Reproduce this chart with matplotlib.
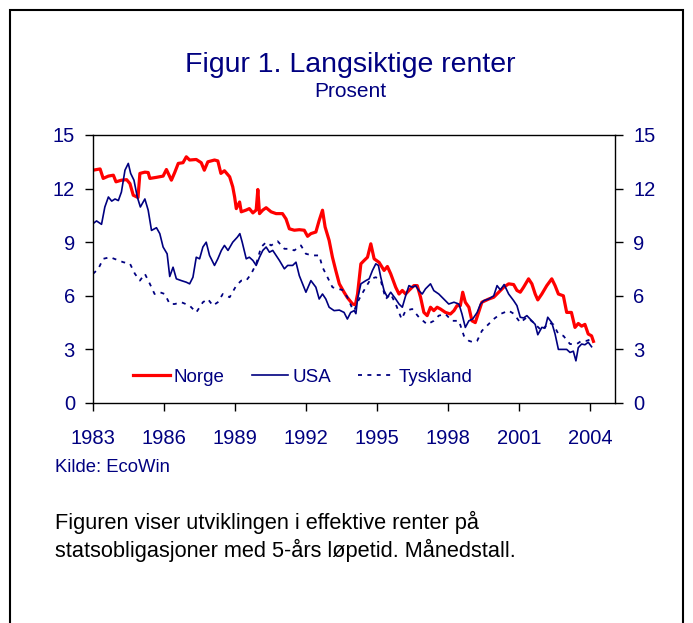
import matplotlib
matplotlib.use("Agg")
import matplotlib.pyplot as plt
from matplotlib.patches import Rectangle

plt.rcParams['font.family'] = ['Liberation Sans', 'DejaVu Sans']

NAVY = '#000080'
RED = '#FF0000'

norge_year = [1983.0, 1983.3, 1983.43, 1983.65, 1983.86, 1983.97, 1984.2, 1984.42, 1984.56, 1984.7,
              1984.9, 1984.98, 1985.19, 1985.33, 1985.4, 1985.68, 1985.96, 1986.1, 1986.31, 1986.45,
              1986.6, 1986.8, 1986.94, 1987.08, 1987.36, 1987.57, 1987.7, 1987.85, 1988.13, 1988.27,
              1988.4, 1988.55, 1988.77, 1988.9, 1988.98, 1989.05, 1989.19, 1989.26, 1989.47, 1989.6,
              1989.75, 1989.89, 1989.96, 1990.03, 1990.17, 1990.31, 1990.52, 1990.73, 1991.0, 1991.15,
              1991.29, 1991.5, 1991.71, 1991.92, 1992.06, 1992.2, 1992.41, 1992.55, 1992.69, 1992.8,
              1992.97, 1993.11, 1993.25, 1993.4, 1993.6, 1993.74, 1993.96, 1994.08, 1994.17, 1994.31,
              1994.45, 1994.59, 1994.73, 1994.87, 1995.08, 1995.29, 1995.43, 1995.57, 1995.78, 1995.92,
              1996.06, 1996.2, 1996.34, 1996.55, 1996.69, 1996.83, 1996.97, 1997.11, 1997.25, 1997.39,
              1997.53, 1997.67, 1997.88, 1998.09, 1998.24, 1998.37, 1998.51, 1998.61, 1998.72, 1998.87,
              1999.0, 1999.14, 1999.28, 1999.42, 1999.71, 1999.92, 2000.13, 2000.34, 2000.55, 2000.76,
              2000.9, 2001.04, 2001.18, 2001.39, 2001.53, 2001.67, 2001.78, 2001.95, 2002.16, 2002.37,
              2002.51, 2002.65, 2002.86, 2003.0, 2003.2, 2003.35, 2003.49, 2003.63, 2003.77, 2003.91,
              2004.05, 2004.13]
norge_val = [13.03, 13.1, 12.57, 12.7, 12.75, 12.38, 12.47, 12.5, 12.28, 11.63,
             11.5, 12.85, 12.92, 12.9, 12.57, 12.63, 12.7, 13.07, 12.47, 12.9,
             13.41, 13.45, 13.78, 13.6, 13.63, 13.45, 13.03, 13.5, 13.6, 13.55,
             12.85, 13.0, 12.66, 12.1, 11.53, 10.88, 11.25, 10.7, 10.8, 10.88,
             10.64, 10.8, 11.95, 10.6, 10.8, 10.93, 10.7, 10.6, 10.6, 10.3,
             9.75, 9.67, 9.7, 9.67, 9.33, 9.48, 9.57, 10.22, 10.79, 9.85,
             9.1, 8.16, 7.42, 6.67, 6.2, 5.9, 5.54, 5.5, 6.1, 7.79,
             7.98, 8.16, 8.91, 8.07, 7.87, 7.42, 7.64, 7.23, 6.48, 6.1,
             6.3, 6.1, 6.3, 6.57, 6.57, 5.92, 5.07, 4.89, 5.36, 5.17,
             5.36, 5.26, 5.07, 4.98, 5.17, 5.45, 5.45, 6.2, 5.64, 5.36,
             4.6, 4.5, 5.07, 5.64, 5.82, 5.92, 6.2, 6.48, 6.67, 6.63,
             6.3, 6.2, 6.48, 6.95, 6.67, 6.1, 5.77, 6.1, 6.57, 6.95,
             6.57, 6.1, 6.0, 5.07, 5.07, 4.23, 4.45, 4.3, 4.4, 3.86,
             3.76, 3.45]

usa_year = [1983.0, 1983.15, 1983.36, 1983.5, 1983.65, 1983.79, 1983.93, 1984.07, 1984.2, 1984.35,
            1984.49, 1984.59, 1984.73, 1984.87, 1985.0, 1985.19, 1985.33, 1985.47, 1985.68, 1985.82,
            1985.96, 1986.13, 1986.24, 1986.38, 1986.52, 1986.73, 1986.94, 1987.08, 1987.22, 1987.36,
            1987.5, 1987.64, 1987.78, 1987.92, 1988.13, 1988.27, 1988.42, 1988.55, 1988.7, 1988.9,
            1989.1, 1989.2, 1989.3, 1989.47, 1989.6, 1989.75, 1989.89, 1990.03, 1990.17, 1990.31,
            1990.45, 1990.59, 1990.73, 1990.87, 1991.08, 1991.22, 1991.43, 1991.57, 1991.71, 1991.85,
            1991.99, 1992.2, 1992.41, 1992.55, 1992.69, 1992.83, 1992.97, 1993.18, 1993.4, 1993.6,
            1993.74, 1993.88, 1994.03, 1994.1, 1994.17, 1994.31, 1994.52, 1994.66, 1994.8, 1994.94,
            1995.05, 1995.15, 1995.29, 1995.43, 1995.57, 1995.78, 1995.92, 1996.06, 1996.2, 1996.34,
            1996.48, 1996.62, 1996.76, 1996.9, 1997.04, 1997.25, 1997.39, 1997.6, 1997.81, 1998.02,
            1998.24, 1998.45, 1998.58, 1998.72, 1998.87, 1999.03, 1999.22, 1999.36, 1999.5, 1999.71,
            1999.92, 2000.06, 2000.2, 2000.36, 2000.55, 2000.76, 2000.9, 2001.04, 2001.18, 2001.32,
            2001.53, 2001.67, 2001.78, 2001.95, 2002.09, 2002.2, 2002.37, 2002.51, 2002.65, 2002.86,
            2003.0, 2003.14, 2003.28, 2003.39, 2003.49, 2003.63, 2003.77, 2003.91, 2004.05]
usa_val = [10.04, 10.19, 10.0, 10.97, 11.53, 11.3, 11.42, 11.33, 11.81, 13.03,
           13.41, 12.85, 12.47, 11.53, 10.97, 11.42, 10.79, 9.66, 9.81, 9.48,
           8.73, 8.35, 7.08, 7.6, 6.95, 6.85, 6.76, 6.67, 7.04, 8.16,
           8.07, 8.73, 9.0, 8.26, 7.7, 8.07, 8.54, 8.82, 8.54, 9.0,
           9.29, 9.48, 9.0, 8.07, 8.16, 7.98, 7.7, 8.16, 8.54, 8.73,
           8.44, 8.54, 8.26, 7.98, 7.51, 7.7, 7.7, 7.88, 7.13, 6.67,
           6.2, 6.85, 6.48, 5.82, 6.1, 5.82, 5.36, 5.17, 5.2, 5.07,
           4.7, 5.07, 5.17, 5.0, 5.82, 6.67, 6.85, 6.95, 7.42, 7.79,
           7.7, 7.04, 6.29, 5.92, 6.2, 5.82, 5.54, 5.36, 6.0, 6.57,
           6.48, 6.57, 6.29, 6.1, 6.39, 6.67, 6.29, 6.1, 5.82, 5.54,
           5.64, 5.54, 4.98, 4.23, 4.6, 4.7, 5.07, 5.54, 5.73, 5.82,
           6.0, 6.57, 6.33, 6.63, 6.1, 5.73, 5.45, 4.8, 4.76, 4.89,
           4.6, 4.4, 3.82, 4.23, 4.2, 4.8, 4.5, 3.86, 3.0, 3.0,
           3.0, 2.83, 2.9, 2.36, 3.1, 3.3, 3.26, 3.4, 3.15]

tysk_year = [1983.0, 1983.22, 1983.43, 1983.72, 1984.0, 1984.28, 1984.56, 1984.77, 1984.98, 1985.19,
             1985.4, 1985.6, 1985.82, 1986.03, 1986.24, 1986.45, 1986.73, 1987.08, 1987.36, 1987.64,
             1987.85, 1988.06, 1988.27, 1988.48, 1988.77, 1989.05, 1989.26, 1989.47, 1989.68, 1989.89,
             1990.1, 1990.31, 1990.52, 1990.8, 1991.08, 1991.29, 1991.5, 1991.78, 1991.99, 1992.27,
             1992.55, 1992.69, 1992.9, 1993.11, 1993.32, 1993.53, 1993.74, 1993.96, 1994.03, 1994.17,
             1994.31, 1994.52, 1994.73, 1994.94, 1995.15, 1995.36, 1995.57, 1995.78, 1996.03, 1996.2,
             1996.48, 1996.76, 1997.11, 1997.39, 1997.6, 1997.88, 1998.16, 1998.45, 1998.66, 1998.87,
             1999.08, 1999.22, 1999.42, 1999.64, 1999.92, 2000.2, 2000.55, 2000.76, 2001.04, 2001.32,
             2001.6, 2001.95, 2002.23, 2002.44, 2002.65, 2002.86, 2003.14, 2003.42, 2003.63, 2003.84,
             2004.05]
tysk_val = [7.23, 7.5, 8.07, 8.16, 8.02, 7.88, 7.8, 7.23, 6.85, 7.23,
            6.67, 6.1, 6.2, 6.1, 5.54, 5.54, 5.64, 5.45, 5.07, 5.64,
            5.82, 5.45, 5.64, 6.1, 5.92, 6.57, 6.85, 6.85, 7.23, 7.79,
            8.73, 9.0, 8.82, 9.05, 8.63, 8.63, 8.54, 8.82, 8.35, 8.26,
            8.26, 7.6, 7.04, 6.48, 6.39, 6.33, 5.92, 5.26, 5.17, 5.64,
            6.0, 6.48, 6.95, 7.04, 6.85, 5.82, 6.1, 5.54, 4.7, 5.17,
            5.26, 4.8, 4.4, 4.6, 4.89, 4.98, 4.6, 4.6, 3.76, 3.48,
            3.39, 3.48, 4.04, 4.33, 4.7, 4.98, 5.17, 5.0, 4.5, 4.8,
            4.5, 4.04, 4.5, 4.4, 3.86, 3.76, 3.3, 3.3, 3.48, 3.48,
            3.58]

y_ticks = [0, 3, 6, 9, 12, 15]
x_ticks = [1983, 1986, 1989, 1992, 1995, 1998, 2001, 2004]

W, H = 693, 623
fig = plt.figure(figsize=(W / 100, H / 100), dpi=100)
ax = fig.add_axes([93 / W, 1 - 403 / H, (615 - 93) / W, (403 - 135) / H])

ax.plot(norge_year, norge_val, color=RED, lw=2.3, label='Norge', solid_joinstyle='round')
ax.plot(usa_year, usa_val, color=NAVY, lw=1.2, label='USA')
ax.plot(tysk_year, tysk_val, color=NAVY, lw=1.3, linestyle=(0, (2.2, 3.0)), label='Tyskland')

ax.set_xlim(1983, 2005.04)
ax.set_ylim(0, 15)
ax.set_xticks(x_ticks)
ax.set_yticks(y_ticks)
ax.tick_params(axis='both', direction='out', length=6, width=1, colors='black',
               labelcolor=NAVY, labelsize=14.5)
ax.tick_params(axis='y', right=True, labelright=True, pad=7)
ax.tick_params(axis='x', pad=13)
for s in ax.spines.values():
    s.set_linewidth(1.0)
    s.set_color('black')

ax.legend(loc='center left', bbox_to_anchor=(133 / W, 1 - 377 / H),
          bbox_transform=fig.transFigure, ncol=3, frameon=False,
          fontsize=13.5, handlelength=1.95, handletextpad=0.22, columnspacing=1.45,
          borderpad=0, borderaxespad=0, labelcolor=NAVY)

fig.text(350 / W, 1 - 72 / H, 'Figur 1. Langsiktige renter', ha='center', va='baseline',
         fontsize=20.5, color=NAVY)
fig.text(350 / W, 1 - 97 / H, 'Prosent', ha='center', va='baseline', fontsize=15, color=NAVY)
fig.text(55 / W, 1 - 468 / H, 'Kilde: EcoWin', ha='left', va='center', fontsize=13.3, color=NAVY)
fig.text(55 / W, 1 - 522 / H, 'Figuren viser utviklingen i effektive renter på',
         ha='left', va='center', fontsize=15.7, color='black')
fig.text(55 / W, 1 - 550 / H, 'statsobligasjoner med 5-års løpetid. Månedstall.',
         ha='left', va='center', fontsize=15.7, color='black')

fig.patches.append(Rectangle((10 / W, -0.05), (683 - 10) / W, 1.05 - 10 / H,
                             transform=fig.transFigure, fill=False, edgecolor='black',
                             linewidth=1.5))

fig.savefig('out.png', dpi=100)
